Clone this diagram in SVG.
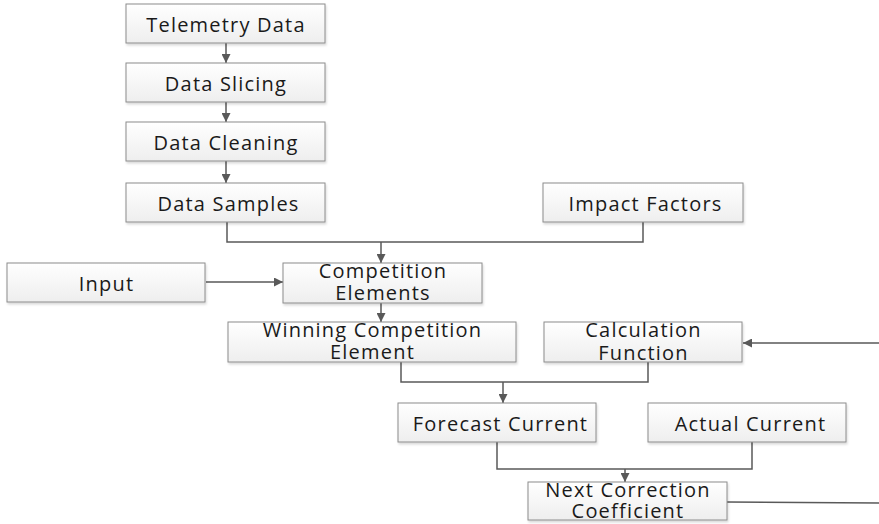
<svg xmlns="http://www.w3.org/2000/svg" width="879" height="524" viewBox="0 0 879 524">
<defs>
<linearGradient id="g" x1="0" y1="0" x2="0" y2="1">
<stop offset="0" stop-color="#ffffff"/>
<stop offset="1" stop-color="#eeeeee"/>
</linearGradient>
<filter id="sh" x="-5%" y="-10%" width="110%" height="130%">
<feDropShadow dx="1" dy="2" stdDeviation="1" flood-color="#000" flood-opacity="0.15"/>
</filter>
<marker id="ah" viewBox="0 0 10 10" refX="10" refY="5" markerWidth="9" markerHeight="9" markerUnits="userSpaceOnUse" orient="auto">
<path d="M0,0 L10,5 L0,10 z" fill="#595959"/>
</marker>
</defs>
<style>
.box rect{fill:url(#g);stroke:#8c8c8c;stroke-width:1;filter:url(#sh)}
.box text{font-family:"Open Sans","DejaVu Sans",sans-serif;font-size:20px;letter-spacing:1.2px;fill:#1a1a1a;text-anchor:middle}
.c path{fill:none;stroke:#595959;stroke-width:1.5}
.c .a{marker-end:url(#ah)}
</style>
<rect width="879" height="524" fill="#ffffff"/>
<g class="c">
<path class="a" d="M226,43 V63"/>
<path class="a" d="M226,102 V122"/>
<path class="a" d="M226,161 V183"/>
<path d="M227,222 V242 H643 V222"/>
<path class="a" d="M381,242 V263"/>
<path class="a" d="M206,282 H283"/>
<path class="a" d="M381,303 V322"/>
<path d="M401,362 V382 H648 V362"/>
<path class="a" d="M503,382 V403"/>
<path d="M497,442 V469 H752 V442"/>
<path class="a" d="M625,469 V482"/>
<path d="M727,502 L879,503"/>
<path class="a" d="M879,343 H743"/>
</g>
<g id="telemetry" class="box"><rect x="126" y="4" width="199" height="39"/><text x="226" y="32">Telemetry Data</text></g>
<g id="slicing" class="box"><rect x="126" y="63" width="199" height="39"/><text x="226" y="91">Data Slicing</text></g>
<g id="cleaning" class="box"><rect x="126" y="122" width="199" height="39"/><text x="226" y="150">Data Cleaning</text></g>
<g id="samples" class="box"><rect x="126" y="183" width="199" height="39"/><text x="228.5" y="211">Data Samples</text></g>
<g id="impact" class="box"><rect x="543" y="183" width="200" height="39"/><text x="645.5" y="211">Impact Factors</text></g>
<g id="input" class="box"><rect x="7" y="263" width="198" height="39"/><text x="106.5" y="291">Input</text></g>
<g id="competition" class="box"><rect x="283" y="263" width="199" height="40"/><text x="383" y="278">Competition</text><text x="383" y="300">Elements</text></g>
<g id="winning" class="box"><rect x="228" y="322" width="288" height="40"/><text x="372.5" y="337">Winning Competition</text><text x="372.5" y="359">Element</text></g>
<g id="calc" class="box"><rect x="544" y="322" width="198" height="40"/><text x="643.5" y="337">Calculation</text><text x="643.5" y="360">Function</text></g>
<g id="forecast" class="box"><rect x="398" y="403" width="198" height="39"/><text x="500.5" y="431">Forecast Current</text></g>
<g id="actual" class="box"><rect x="648" y="403" width="198" height="39"/><text x="750.5" y="431">Actual Current</text></g>
<g id="next" class="box"><rect x="528" y="482" width="199" height="38"/><text x="628" y="497">Next Correction</text><text x="628" y="518">Coefficient</text></g>
</svg>
